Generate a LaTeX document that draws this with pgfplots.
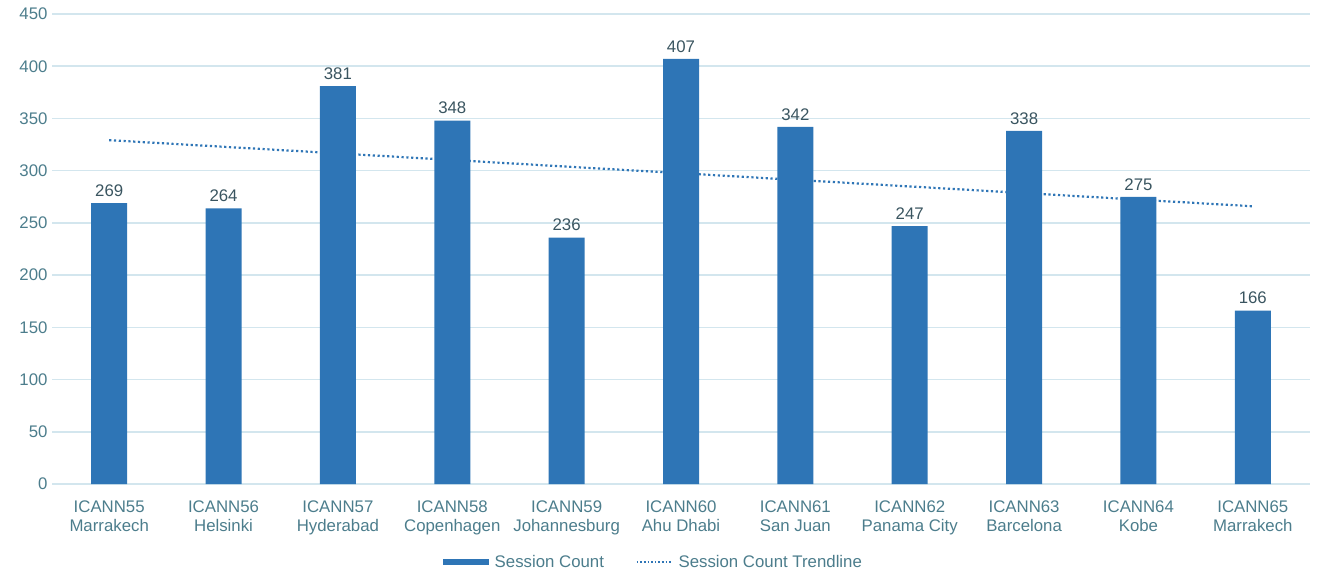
\documentclass[border=0pt]{standalone}
\usepackage{pgfplots}
\pgfplotsset{compat=1.18}
\usepackage{fontspec}
\setmainfont{Liberation Sans}

\definecolor{barblue}{HTML}{2E75B6}
\definecolor{gridblue}{HTML}{D3E6EE}
\definecolor{ticktext}{HTML}{4C7D8C}
\definecolor{labeltext}{HTML}{3A5560}

\begin{document}
\begin{tikzpicture}
\begin{axis}[
    scale only axis,
    width=1258pt, height=470pt,
    at={(0,0)}, anchor=south west,
    ymin=0, ymax=450,
    xmin=-0.5, xmax=10.5,
    ytick={0,50,...,450},
    xtick=data,
    xticklabels={{ICANN55\\Marrakech},{ICANN56\\Helsinki},{ICANN57\\Hyderabad},
      {ICANN58\\Copenhagen},{ICANN59\\Johannesburg},{ICANN60\\Ahu Dhabi},
      {ICANN61\\San Juan},{ICANN62\\Panama City},{ICANN63\\Barcelona},
      {ICANN64\\Kobe},{ICANN65\\Marrakech}},
    axis line style={draw=none},
    tick style={draw=none},
    ymajorgrids,
    major grid style={gridblue, line width=1.5pt},
    /pgf/number format/assume math mode=true,
    ticklabel style={font=\fontsize{16.8}{19.5}\selectfont, text=ticktext},
    xticklabel style={align=center, yshift=-13pt},
    yticklabel style={xshift=-1pt},
    legend style={at={(0.478,-0.166)}, anchor=center, draw=none,
      font=\fontsize{16.8}{19.5}\selectfont, text=ticktext,
      /tikz/every odd column/.append style={column sep=4pt},
      /tikz/every even column/.append style={column sep=30pt}},
    legend columns=2,
]
\addplot[ybar, bar width=36pt, fill=barblue, draw=none,
    nodes near coords,
    every node near coord/.append style={font=\fontsize{16.8}{19.5}\selectfont, text=labeltext, yshift=3pt},
    legend image code/.code={\fill[barblue] (0pt,-3pt) rectangle (46pt,3pt);}]
  coordinates {
    (0,269) (1,264) (2,381) (3,348) (4,236) (5,407)
    (6,342) (7,247) (8,338) (9,275) (10,166)
  };
\addlegendentry{Session Count}
\addplot[barblue, line width=2.2pt, dash pattern=on 2.2pt off 2.6pt,
    legend image code/.code={\draw[barblue, line width=1.6pt, dash pattern=on 1.6pt off 2pt] (0pt,0pt) -- (35pt,0pt);}]
  coordinates {(0,329.2) (10,265.9)};
\addlegendentry{Session Count Trendline}
\end{axis}
\path[use as bounding box] (-52pt,-89pt) rectangle (1265pt,484pt);
\end{tikzpicture}
\end{document}
